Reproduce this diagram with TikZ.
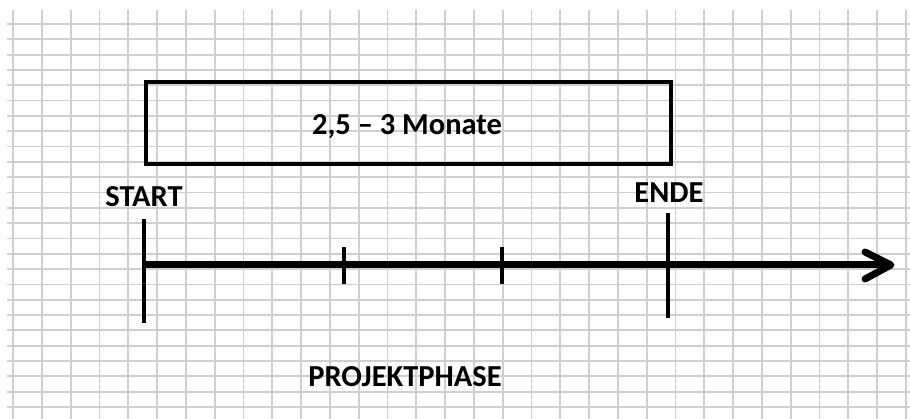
\documentclass[tikz,border=0pt]{standalone}
\usepackage{fontspec}
\setmainfont{Carlito}
\tikzset{
  gridline/.style={draw=black!19, line width=1.8pt},
  heavy/.style={draw=black, line width=7pt},
  tickline/.style={draw=black, line width=4.8pt},
  label/.style={font=\bfseries\fontsize{30.5}{34}\selectfont, inner sep=0pt, anchor=center},
}
\begin{document}
\begin{tikzpicture}[x=1pt,y=-1pt]
\useasboundingbox (0,0) rectangle (910,419);
\fill[white] (0,0) rectangle (910,419);
% grid
\foreach \k in {0,...,31} {
  \draw[gridline] ({13+28.8*\k},10) -- ({13+28.8*\k},419);
}
\foreach \k in {0,...,25} {
  \draw[gridline] (7,{24+15.32*\k}) -- (910,{24+15.32*\k});
}
% duration box
\node[draw=black, line width=4pt, minimum width=525pt, minimum height=82pt, inner sep=0pt, anchor=north west] (box) at (144,80) {};
\node[label] (dur) at (407,127) {2,5 – 3 Monate};
% timeline
\coordinate (s) at (144,265);
\coordinate (e) at (891,265);
\coordinate (a1) at (865,252);
\coordinate (a2) at (865,279);
\draw[heavy] (s) -- (e);
\draw[heavy, line cap=round, line join=round] (a1) -- (e) -- (a2);
% ticks
\coordinate (st1) at (144,219);
\coordinate (st2) at (144,323);
\coordinate (en1) at (668,213);
\coordinate (en2) at (668,318);
\coordinate (m1a) at (344,247);
\coordinate (m1b) at (344,284);
\coordinate (m2a) at (502,247);
\coordinate (m2b) at (502,284);
\draw[tickline] (st1) -- (st2);
\draw[tickline] (en1) -- (en2);
\draw[tickline] (m1a) -- (m1b);
\draw[tickline] (m2a) -- (m2b);
% labels
\node[label] (start) at (144,197) {START};
\node[label] (ende) at (669,193) {ENDE};
\node[label] (phase) at (405,377) {PROJEKTPHASE};
\end{tikzpicture}
\end{document}
